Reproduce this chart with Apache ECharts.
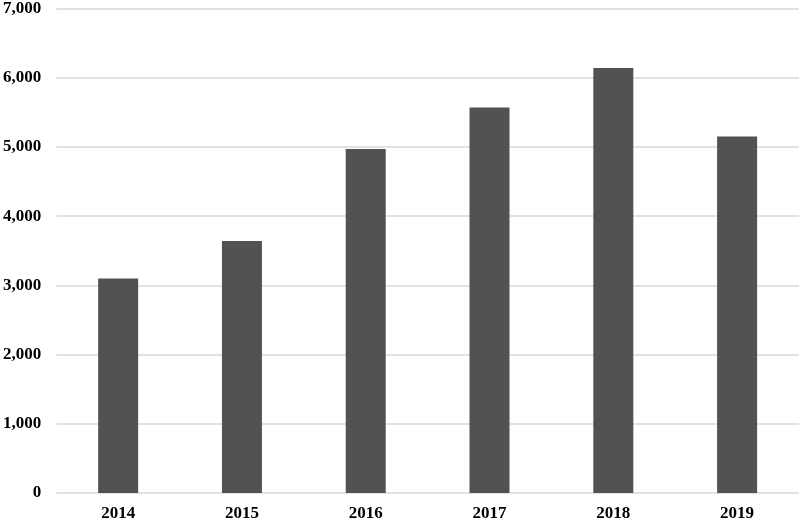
<!DOCTYPE html>
<html lang="en">
<head>
    <meta charset="UTF-8">
    <title>Chart</title>
    <script type="text/javascript" src="https://cdn.jsdelivr.net/npm/echarts@6/dist/echarts.min.js"></script>
    <style>
        html, body { margin: 0; padding: 0; background: #fff; }
    </style>
</head>
<body>
<div id="main" style="width: 800px;height:522px;"></div>
<script type="text/javascript">
    var years = ['2014', '2015', '2016', '2017', '2018', '2019'];
    var values = [3100, 3640, 4970, 5570, 6140, 5150];
    var yTicks = [0, 1000, 2000, 3000, 4000, 5000, 6000, 7000];

    var labelFont = {
        fontFamily: 'Liberation Serif',
        fontWeight: 'bold',
        fontSize: 17,
        color: '#000'
    };

    var myChart = echarts.init(document.getElementById('main'));
    var option = {
        animation: false,
        grid: {left: 56, right: 1, top: 8, bottom: 29},
        xAxis: {
            type: 'category',
            data: years,
            axisLine: {show: false},
            axisTick: {show: false},
            axisLabel: Object.assign({margin: 12}, labelFont)
        },
        yAxis: {
            type: 'value',
            min: yTicks[0],
            max: yTicks[yTicks.length - 1],
            interval: 1000,
            axisLine: {show: false},
            axisTick: {show: false},
            splitLine: {lineStyle: {color: '#d9d9d9', width: 1.5}},
            axisLabel: Object.assign({
                margin: 15,
                formatter: function (v) { return v.toLocaleString('en-US'); }
            }, labelFont)
        },
        series: [{
            type: 'bar',
            data: values,
            barWidth: 40,
            itemStyle: {color: '#525252'}
        }]
    };
    myChart.setOption(option);
</script>
</body>
</html>
